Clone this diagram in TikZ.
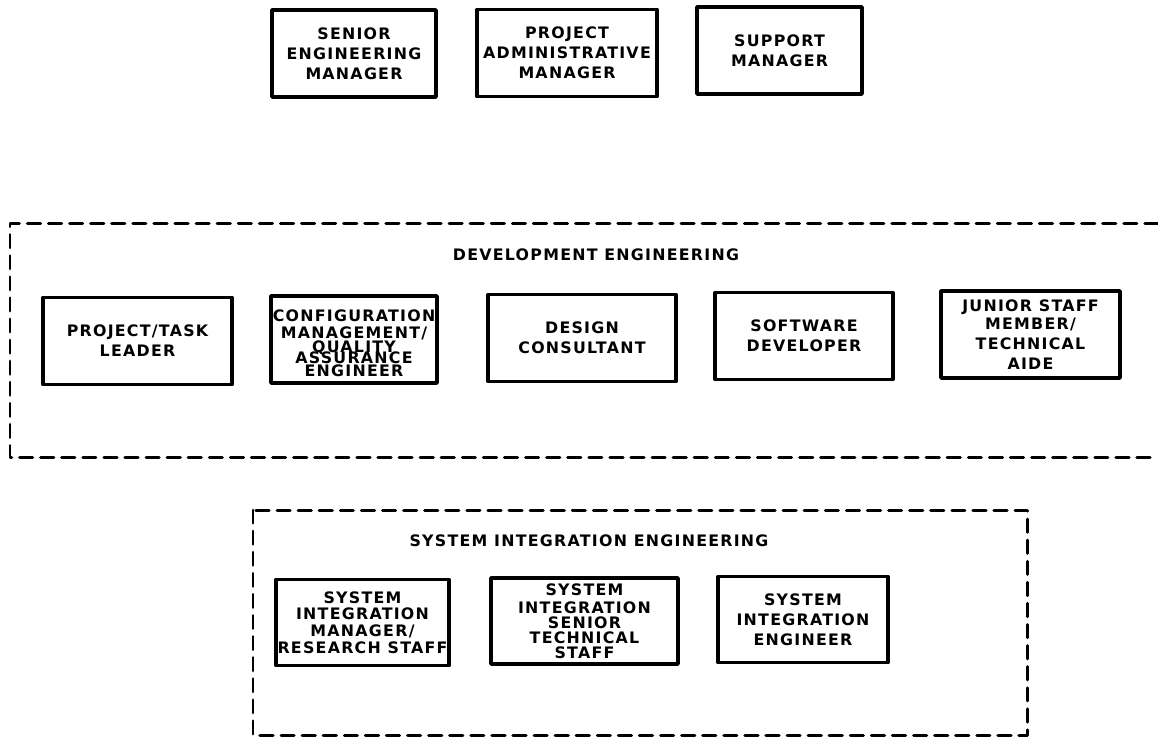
\documentclass[tikz,border=0pt]{standalone}
\usepackage{fontspec}
\setsansfont{DejaVu Sans}[LetterSpace=8]
\begin{document}
\begin{tikzpicture}[x=0.02cm,y=-0.02cm,line join=round,line cap=round,
    font=\sffamily\bfseries\fontsize{9}{11.4}\selectfont,
    post/.style={draw,line width=2pt,align=center,inner sep=1pt},
    unit/.style={line width=1.7pt,dash pattern=on 7.5pt off 4.5pt}]
    \useasboundingbox (0,0) rectangle (1158,738);
    % management
    \foreach \n/\x/\y/\w/\t in {sem/354/53.5/3.28/{SENIOR\\ENGINEERING\\MANAGER},
        pam/567/53/3.6/{PROJECT\\ADMINISTRATIVE\\MANAGER},sup/779.5/50.5/3.3/{SUPPORT\\MANAGER}}
        \node[post,minimum width=\w cm,minimum height=1.74cm] (\n) at (\x,\y) {\t};
    % development engineering
    \draw[unit] (1158,223)--(10,223)--(10,457)--(1158,457);
    \node (dev) at (596,255) {DEVELOPMENT ENGINEERING};
    \foreach \n/\x/\y/\w/\t in {ptl/137.5/341/3.78/{PROJECT/TASK\\LEADER},
        cmq/354/339.5/3.16/{\rule{0pt}{11pt}CONFIGURATION\\[-1.7pt]MANAGEMENT/\\[-3.4pt]QUALITY\\[-5pt]ASSURANCE\\[-4pt]ENGINEER},
        dsc/582/338/3.76/{DESIGN\\CONSULTANT},sdv/804/336/3.56/{SOFTWARE\\DEVELOPER},
        jsm/1030.5/334.5/3.58/{JUNIOR STAFF\\[-1pt]MEMBER/\\TECHNICAL\\[-0.5pt]AIDE}}
        \node[post,minimum width=\w cm,minimum height=1.74cm] (\n) at (\x,\y) {\t};
    % system integration engineering
    \draw[unit] (253,510) rectangle (1027,735);
    \node (sie) at (589,541) {SYSTEM INTEGRATION ENGINEERING};
    \foreach \n/\x/\y/\w/\t in {sim/362.5/622.5/3.38/{SYSTEM\\[-2pt]INTEGRATION\\[-1.5pt]MANAGER/\\[-2pt]RESEARCH STAFF},
        sis/584.5/621/3.74/{SYSTEM\\[-1pt]INTEGRATION\\[-3pt]SENIOR\\[-2.5pt]TECHNICAL\\[-3pt]STAFF},
        sin/803/619.5/3.4/{SYSTEM\\INTEGRATION\\ENGINEER}}
        \node[post,minimum width=\w cm,minimum height=1.72cm] (\n) at (\x,\y) {\t};
\end{tikzpicture}
\end{document}
